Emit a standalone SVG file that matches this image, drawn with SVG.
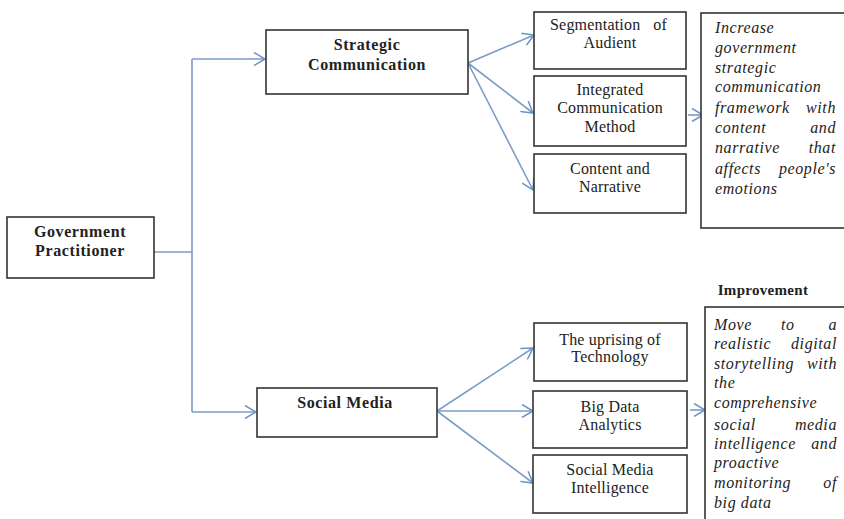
<svg xmlns="http://www.w3.org/2000/svg" width="844" height="519" viewBox="0 0 844 519">
<defs>
<marker id="ah" viewBox="-12 -7 14 14" markerWidth="14" markerHeight="14" refX="0" refY="0" orient="auto" markerUnits="userSpaceOnUse">
<path d="M-11,-6.5 L0,0 L-11,6.5" fill="none" stroke="#6d93c2" stroke-width="1.5"/>
</marker>
</defs>
<style>
.box{fill:#fff;stroke:#333;stroke-width:1.6}
.b{font-family:"Liberation Serif",serif;font-weight:bold;font-size:16px;fill:#222;letter-spacing:0.6px}
.r{font-family:"Liberation Serif",serif;font-size:16px;fill:#222;letter-spacing:0.2px}
.i{font-family:"Liberation Serif",serif;font-style:italic;font-size:16px;fill:#222;letter-spacing:0.6px}
.c{fill:none;stroke:#7b9cc8;stroke-width:1.6}
</style>
<rect width="844" height="519" fill="#fff"/>
<g id="connectors">
<path class="c" d="M154,252 H192"/>
<path class="c" d="M192,59 V412"/>
<path class="c" d="M192,59 H265" marker-end="url(#ah)"/>
<path class="c" d="M192,412 H256" marker-end="url(#ah)"/>
<path class="c" d="M468,63 L534,35" marker-end="url(#ah)"/>
<path class="c" d="M468,63 L533,113" marker-end="url(#ah)"/>
<path class="c" d="M468,63 L533,190" marker-end="url(#ah)"/>
<path class="c" d="M688,115 L703,115" marker-end="url(#ah)"/>
<path class="c" d="M437,411 L533,348" marker-end="url(#ah)"/>
<path class="c" d="M437,411 L533,411" marker-end="url(#ah)"/>
<path class="c" d="M437,411 L533,483" marker-end="url(#ah)"/>
<path class="c" d="M690,410 L705,410" marker-end="url(#ah)"/>
</g>
<g id="gov">
<rect class="box" x="7" y="217" width="147" height="61"/>
<text class="b" x="80" y="237" text-anchor="middle">Government</text>
<text class="b" x="80" y="256" text-anchor="middle">Practitioner</text>
</g>
<g id="strategic">
<rect class="box" x="266" y="30" width="202" height="64"/>
<text class="b" x="367" y="50" text-anchor="middle">Strategic</text>
<text class="b" x="367" y="70" text-anchor="middle">Communication</text>
</g>
<g id="social">
<rect class="box" x="257" y="388" width="180" height="49"/>
<text class="b" x="345" y="408" text-anchor="middle">Social Media</text>
</g>
<g id="segmentation">
<rect class="box" x="534" y="12" width="152" height="57"/>
<text class="r" x="550" y="30">Segmentation</text>
<text class="r" x="667" y="30" text-anchor="end">of</text>
<text class="r" x="610" y="48" text-anchor="middle">Audient</text>
</g>
<g id="integrated">
<rect class="box" x="534" y="76" width="152" height="70"/>
<text class="r" x="610" y="95" text-anchor="middle">Integrated</text>
<text class="r" x="610" y="113" text-anchor="middle">Communication</text>
<text class="r" x="610" y="132" text-anchor="middle">Method</text>
</g>
<g id="content">
<rect class="box" x="534" y="154" width="152" height="59"/>
<text class="r" x="610" y="174" text-anchor="middle">Content and</text>
<text class="r" x="610" y="192" text-anchor="middle">Narrative</text>
</g>
<g id="result1">
<rect class="box" x="701" y="13" width="150" height="215"/>
<text class="i" x="715" y="33">Increase</text>
<text class="i" x="715" y="53">government</text>
<text class="i" x="715" y="73">strategic</text>
<text class="i" x="715" y="92">communication</text>
<text class="i" x="715" y="113">framework</text>
<text class="i" x="836" y="113" text-anchor="end">with</text>
<text class="i" x="715" y="133">content</text>
<text class="i" x="836" y="133" text-anchor="end">and</text>
<text class="i" x="715" y="153">narrative</text>
<text class="i" x="836" y="153" text-anchor="end">that</text>
<text class="i" x="715" y="174">affects</text>
<text class="i" x="836" y="174" text-anchor="end">people's</text>
<text class="i" x="715" y="194">emotions</text>
</g>
<g id="uprising">
<rect class="box" x="534" y="323" width="153" height="58"/>
<text class="r" x="610" y="345" text-anchor="middle">The uprising of</text>
<text class="r" x="610" y="362" text-anchor="middle">Technology</text>
</g>
<g id="bigdata">
<rect class="box" x="533" y="391" width="154" height="57"/>
<text class="r" x="610" y="412" text-anchor="middle">Big Data</text>
<text class="r" x="610" y="430" text-anchor="middle">Analytics</text>
</g>
<g id="smi">
<rect class="box" x="533" y="455" width="154" height="58"/>
<text class="r" x="610" y="475" text-anchor="middle">Social Media</text>
<text class="r" x="610" y="493" text-anchor="middle">Intelligence</text>
</g>
<g id="improvement">
<text class="b" x="763" y="295" text-anchor="middle" style="font-size:15px;letter-spacing:0.3px">Improvement</text>
</g>
<g id="result2">
<rect class="box" x="705" y="307" width="150" height="230"/>
<text class="i" x="714" y="330">Move</text>
<text class="i" x="781" y="330">to</text>
<text class="i" x="837" y="330" text-anchor="end">a</text>
<text class="i" x="714" y="349">realistic</text>
<text class="i" x="837" y="349" text-anchor="end">digital</text>
<text class="i" x="714" y="369">storytelling</text>
<text class="i" x="837" y="369" text-anchor="end">with</text>
<text class="i" x="714" y="388">the</text>
<text class="i" x="714" y="408">comprehensive</text>
<text class="i" x="714" y="430">social</text>
<text class="i" x="837" y="430" text-anchor="end">media</text>
<text class="i" x="714" y="449">intelligence</text>
<text class="i" x="837" y="449" text-anchor="end">and</text>
<text class="i" x="714" y="468">proactive</text>
<text class="i" x="714" y="488">monitoring</text>
<text class="i" x="837" y="488" text-anchor="end">of</text>
<text class="i" x="714" y="508">big data</text>
</g>
</svg>
